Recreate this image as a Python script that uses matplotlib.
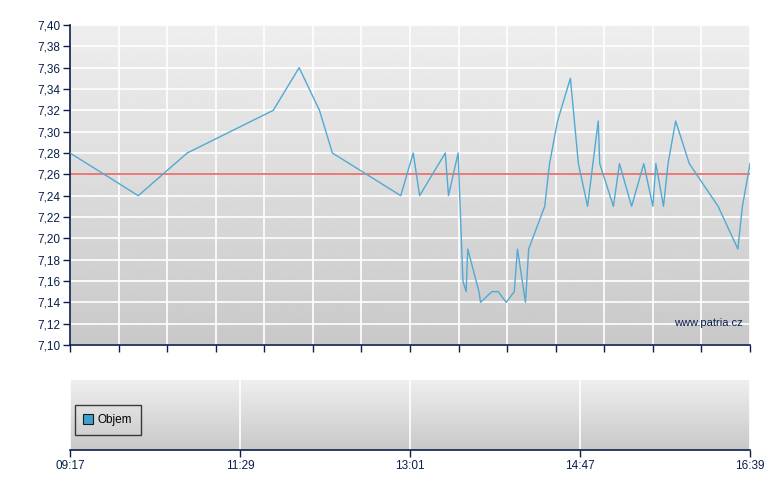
import numpy as np
import matplotlib

matplotlib.use("Agg")
import matplotlib.pyplot as plt
from matplotlib.lines import Line2D

# intraday trades (time, price)
TIMES = [
    "09:17", "10:10", "10:48", "11:47", "12:01", "12:12", "12:19", "12:56",
    "13:03", "13:07", "13:23", "13:25", "13:31", "13:34", "13:36", "13:37",
    "13:44", "13:45", "13:52", "13:56", "14:01", "14:06", "14:08", "14:13",
    "14:15", "14:25", "14:28", "14:33", "14:41", "14:46", "14:52", "14:59",
    "15:00", "15:09", "15:13", "15:21", "15:29", "15:35", "15:37", "15:42",
    "15:45", "15:50", "15:59", "16:18", "16:31", "16:34", "16:39",
]
PRICES = [
    7.28, 7.24, 7.28, 7.32, 7.36, 7.32, 7.28, 7.24,
    7.28, 7.24, 7.28, 7.24, 7.28, 7.16, 7.15, 7.19,
    7.15, 7.14, 7.15, 7.15, 7.14, 7.15, 7.19, 7.14,
    7.19, 7.23, 7.27, 7.31, 7.35, 7.27, 7.23, 7.31,
    7.27, 7.23, 7.27, 7.23, 7.27, 7.23, 7.27, 7.23,
    7.27, 7.31, 7.27, 7.23, 7.19, 7.23, 7.27,
]
PREV_CLOSE = 7.26
AXIS_LABELS = ["09:17", "11:29", "13:01", "14:47", "16:39"]
Y_TICKS = np.round(np.arange(7.10, 7.401, 0.02), 2)

LINE_COLOR = "#52a9d3"
REF_COLOR = "#e8645f"
INK = "#0a1f4a"
FONT = "Liberation Sans"


def minutes(hhmm):
    h, m = hhmm.split(":")
    return int(h) * 60 + int(m)


# the time axis is piecewise linear between the labelled times
anchors = [minutes(t) for t in AXIS_LABELS]
anchor_pos = np.arange(len(AXIS_LABELS))


def to_pos(times):
    return np.interp([minutes(t) for t in times], anchors, anchor_pos)


def gradient_bg(ax):
    grad = np.linspace(0.935, 0.785, 256).reshape(-1, 1)
    ax.imshow(grad, cmap="gray", vmin=0, vmax=1, aspect="auto",
              extent=(0, 1, 0, 1), transform=ax.transAxes, zorder=0)


def style_spines(ax):
    for side in ("top", "right"):
        ax.spines[side].set_visible(False)
    for side in ("left", "bottom"):
        ax.spines[side].set_color(INK)
        ax.spines[side].set_linewidth(1.2)
    ax.tick_params(colors=INK, direction="out", length=5, width=1,
                   labelsize=8.5, labelcolor=INK, pad=2)


fig = plt.figure(figsize=(7.8, 4.9), dpi=100)
ax = fig.add_axes([70 / 780, 145 / 490, 680 / 780, 320 / 490])
vol = fig.add_axes([70 / 780, 40 / 490, 680 / 780, 70 / 490])

# price panel
gradient_bg(ax)
x = to_pos(TIMES)
ax.grid(color="white", lw=1.2, zorder=1)
ax.set_axisbelow(True)
ax.axhline(PREV_CLOSE, color=REF_COLOR, lw=1.2, zorder=2)
ax.plot(x, PRICES, color=LINE_COLOR, lw=1.0, zorder=3)
ax.set_xlim(0, len(AXIS_LABELS) - 1)
ax.set_ylim(7.10, 7.40)
ax.set_xticks(np.linspace(0, len(AXIS_LABELS) - 1, 15))
ax.set_xticklabels([])
ax.set_yticks(Y_TICKS)
ax.set_yticklabels([f"{v:.2f}".replace(".", ",") for v in Y_TICKS],
                   fontfamily=FONT)
style_spines(ax)
ax.text(0.99, 0.07, "www.patria.cz", transform=ax.transAxes, ha="right",
        va="center", fontsize=8, color=INK, fontfamily=FONT, zorder=4)

# volume panel
gradient_bg(vol)
vol.set_xlim(0, len(AXIS_LABELS) - 1)
vol.set_ylim(0, 1)
vol.set_xticks(anchor_pos)
vol.set_xticklabels(AXIS_LABELS, fontfamily=FONT)
vol.set_yticks([])
vol.grid(axis="x", color="white", lw=1.2, zorder=1)
style_spines(vol)
vol.spines["left"].set_visible(False)
handle = Line2D([], [], marker="s", ls="none", markersize=7,
                markerfacecolor="#3ea0d0", markeredgecolor="#1a1a1a",
                markeredgewidth=0.8)
leg = vol.legend([handle], ["Objem"], loc="center left",
                 bbox_to_anchor=(0.0, 0.43), frameon=True, fancybox=False,
                 handlelength=0.8, handletextpad=0.35, borderpad=0.75,
                 borderaxespad=0.4, prop={"family": FONT, "size": 8.5})
leg.get_frame().set_edgecolor("#111111")
leg.get_frame().set_facecolor("none")
leg.get_frame().set_linewidth(1.0)

fig.savefig("out.png", dpi=100)
